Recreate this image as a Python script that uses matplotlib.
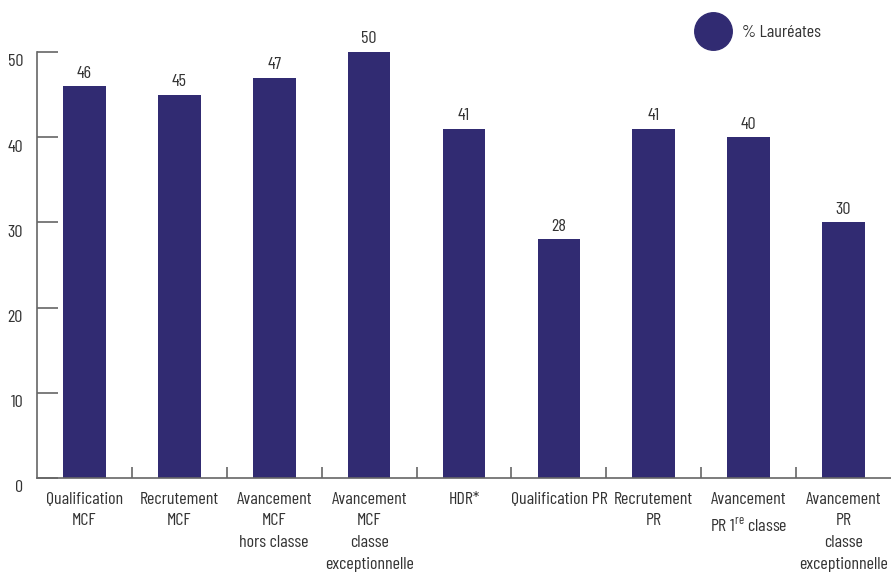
import matplotlib
matplotlib.use("Agg")
import matplotlib.pyplot as plt
from matplotlib.ticker import FixedLocator
import matplotlib.transforms as mtransforms

FONT = 'Barlow Condensed'
plt.rcParams['font.family'] = [FONT, 'DejaVu Sans']
plt.rcParams['mathtext.fontset'] = 'custom'
plt.rcParams['mathtext.rm'] = FONT

categories = [
    "Qualification\nMCF",
    "Recrutement\nMCF",
    "Avancement\nMCF\nhors classe",
    "Avancement\nMCF\nclasse\nexceptionnelle",
    "HDR*",
    "Qualification PR",
    "Recrutement\nPR",
    "Avancement\nPR 1$^{\\mathrm{re}}$ classe",
    "Avancement\nPR\nclasse\nexceptionnelle",
]
values = [46, 45, 47, 50, 41, 28, 41, 40, 30]
yticks = [0, 10, 20, 30, 40, 50]
series_name = "% Lauréates"

bar_color = '#312b72'
axis_color = '#666666'
text_color = '#333333'
FS = 13

fig = plt.figure(figsize=(8.91, 5.73), dpi=100)
ax = fig.add_axes([37/891, 1-478/573, 1-37/891, (478-52)/573])

x = list(range(len(values)))
ax.bar(x, values, width=0.45, color=bar_color, zorder=2)

for xi, v in zip(x, values):
    ax.annotate(f"{v}", (xi, v), xytext=(0, 4), textcoords='offset points',
                ha='center', va='bottom', fontsize=FS, color=text_color)

ax.set_xlim(-0.5, len(values) - 0.5)
ax.set_ylim(0, 50)

ax.set_yticks(yticks)
ax.set_yticklabels([str(t) for t in yticks])
ax.tick_params(axis='y', direction='in', length=15, width=1.2, color=axis_color,
               labelsize=FS, labelcolor=text_color, pad=10)
offset = mtransforms.ScaledTranslation(0, -6/72, fig.dpi_scale_trans)
for lbl in ax.get_yticklabels():
    lbl.set_transform(lbl.get_transform() + offset)

ax.set_xticks(x)
ax.set_xticklabels(categories, linespacing=1.55)
ax.tick_params(axis='x', length=0, labelsize=FS, labelcolor=text_color, pad=10)
ax.xaxis.set_minor_locator(FixedLocator([i + 0.5 for i in range(len(values) - 1)]))
ax.tick_params(axis='x', which='minor', direction='in', length=8, width=1.2, color=axis_color)

for s in ['top', 'right']:
    ax.spines[s].set_visible(False)
for s in ['left', 'bottom']:
    ax.spines[s].set_color(axis_color)
    ax.spines[s].set_linewidth(1.2)

fig.legend(handles=[plt.Line2D([], [], marker='o', linestyle='none', markersize=27,
                               markerfacecolor=bar_color, markeredgecolor=bar_color)],
           labels=[series_name], loc='center', bbox_to_anchor=(758/891, 1-32/573),
           frameon=False, fontsize=FS, handletextpad=0.6, labelcolor=text_color)

fig.savefig("out.png", dpi=100)
